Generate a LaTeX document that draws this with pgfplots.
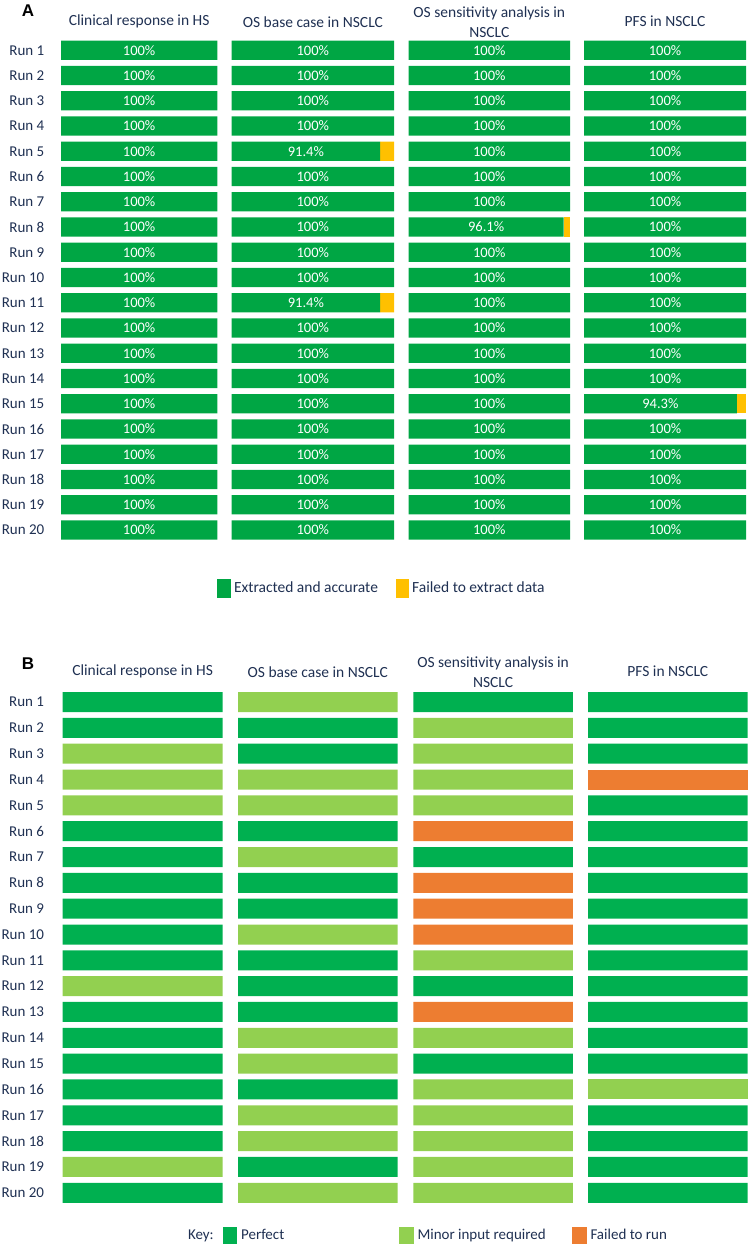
\documentclass[border=0pt]{standalone}
\usepackage{pgfplots}
\pgfplotsset{compat=1.18}
\usepackage{pgfplotstable}
\usepackage{fontspec}
\setmainfont{Carlito}
\newfontfamily\arialfont{Liberation Sans}

\definecolor{gA}{RGB}{0,166,68}
\definecolor{yA}{RGB}{255,192,0}
\definecolor{gB}{RGB}{0,176,80}
\definecolor{lB}{RGB}{146,208,80}
\definecolor{oB}{RGB}{237,125,49}
\definecolor{txt}{RGB}{31,48,82}

% Panel A: share of data extracted and accurate (%)
\pgfplotstableread{
run c1 c2 c3 c4
1 100 100 100 100
2 100 100 100 100
3 100 100 100 100
4 100 100 100 100
5 100 91.4 100 100
6 100 100 100 100
7 100 100 100 100
8 100 100 96.1 100
9 100 100 100 100
10 100 100 100 100
11 100 91.4 100 100
12 100 100 100 100
13 100 100 100 100
14 100 100 100 100
15 100 100 100 94.3
16 100 100 100 100
17 100 100 100 100
18 100 100 100 100
19 100 100 100 100
20 100 100 100 100
}\okA
% Panel A: share failed to extract (%)
\pgfplotstableread{
run c1 c2 c3 c4
1 0 0 0 0
2 0 0 0 0
3 0 0 0 0
4 0 0 0 0
5 0 8.6 0 0
6 0 0 0 0
7 0 0 0 0
8 0 0 3.9 0
9 0 0 0 0
10 0 0 0 0
11 0 8.6 0 0
12 0 0 0 0
13 0 0 0 0
14 0 0 0 0
15 0 0 0 5.7
16 0 0 0 0
17 0 0 0 0
18 0 0 0 0
19 0 0 0 0
20 0 0 0 0
}\failA

\pgfplotsset{
  every axis title shift=0pt,
  base/.style={scale only axis, anchor=north west,
    xmin=0, xmax=100, ymin=0.5, ymax=20.5, y dir=reverse,
    axis line style={draw=none}, xtick=\empty, ytick=\empty,
    major tick length=0pt, clip=false,
    title style={font=\fontsize{15.5bp}{20bp}\selectfont, text=txt, align=center,
      anchor=center, at={(0.5,1)}}},
  runlabels/.style={ytick={1,...,20},
    yticklabels={Run 1,Run 2,Run 3,Run 4,Run 5,Run 6,Run 7,Run 8,Run 9,Run 10,
      Run 11,Run 12,Run 13,Run 14,Run 15,Run 16,Run 17,Run 18,Run 19,Run 20},
    yticklabel style={font=\fontsize{15bp}{18bp}\selectfont, text=txt,
      inner sep=0pt, anchor=east, xshift=#1}},
  panelA/.style={base, height=505bp, xbar stacked, bar width=0.765,
    title style={yshift=16bp},
    legend image code/.code={\fill[##1] (0bp,-9.5bp) rectangle (13.4bp,9.5bp);}},
  panelB/.style={base, height=516.6bp, xbar, bar shift=0pt, bar width=0.774,
    title style={yshift=17.4bp},
    legend image code/.code={\fill[##1] (0bp,-8.5bp) rectangle (14.5bp,8.5bp);}},
  okbar/.style={fill=gA, draw=none,
    point meta=\thisrow{#1},
    nodes near coords={\pgfmathprintnumber[assume math mode=true]{\pgfplotspointmeta}\%},
    nodes near coords style={anchor=center, text=white,
      font=\fontsize{14.5bp}{17bp}\selectfont, inner sep=0pt}},
  failbar/.style={fill=yA, draw=none},
  pbar/.style={fill=gB, draw=none},
  mbar/.style={fill=lB, draw=none},
  fbar/.style={fill=oB, draw=none},
}

\begin{document}
\begin{tikzpicture}
\useasboundingbox (0,0) rectangle (749bp,-1245bp);

% ---------------- Panel A ----------------
\node[font=\arialfont\bfseries\fontsize{17bp}{20bp}\selectfont] at (28bp,-10.5bp) {A};

\begin{axis}[panelA, runlabels=-16.5bp, at={(61bp,-37.7bp)}, width=156.3bp,
  title={Clinical response in HS}]
\addplot[okbar=c1] table[x=c1, y=run] {\okA};
\addplot[failbar] table[x=c1, y=run] {\failA};
\end{axis}

\begin{axis}[panelA, at={(231.7bp,-37.7bp)}, width=162.3bp,
  title={OS base case in NSCLC},
  legend columns=2,
  legend style={at={(axis description cs:-0.0881,-0.0903)}, anchor=west,
    draw=none, fill=none, inner sep=0pt, outer sep=0pt,
    nodes={inner sep=0pt, text=txt, font=\fontsize{15.5bp}{18bp}\selectfont},
    /tikz/every odd column/.style={column sep=3.2bp},
    /tikz/every even column/.style={column sep=0bp}}]
\addplot[okbar=c2] table[x=c2, y=run] {\okA};
\addlegendentry{\makebox[161.6bp][l]{Extracted and accurate}}
\addplot[failbar] table[x=c2, y=run] {\failA};
\addlegendentry{Failed to extract data}
\end{axis}

\begin{axis}[panelA, at={(408.6bp,-37.7bp)}, width=161.4bp,
  title={OS sensitivity analysis in\\NSCLC}]
\addplot[okbar=c3] table[x=c3, y=run] {\okA};
\addplot[failbar] table[x=c3, y=run] {\failA};
\end{axis}

\begin{axis}[panelA, at={(584bp,-37.7bp)}, width=162bp,
  title={PFS in NSCLC}]
\addplot[okbar=c4] table[x=c4, y=run] {\okA};
\addplot[failbar] table[x=c4, y=run] {\failA};
\end{axis}

% ---------------- Panel B ----------------
\node[font=\arialfont\bfseries\fontsize{17bp}{20bp}\selectfont] at (28bp,-663.3bp) {B};

\begin{axis}[panelB, runlabels=-18.3bp, at={(62.6bp,-689.1bp)}, width=160bp,
  title={Clinical response in HS}]
\addplot[pbar] coordinates {(100,1) (100,2) (100,6) (100,7) (100,8) (100,9) (100,10) (100,11) (100,13) (100,14) (100,15) (100,16) (100,17) (100,18) (100,20)};
\addplot[mbar] coordinates {(100,3) (100,4) (100,5) (100,12) (100,19)};
\end{axis}

\begin{axis}[panelB, at={(238bp,-689.1bp)}, width=159.5bp,
  title={OS base case in NSCLC}]
\addplot[pbar] coordinates {(100,2) (100,3) (100,6) (100,8) (100,9) (100,11) (100,12) (100,13) (100,16) (100,19)};
\addplot[mbar] coordinates {(100,1) (100,4) (100,5) (100,7) (100,10) (100,14) (100,15) (100,17) (100,18) (100,20)};
\end{axis}

\begin{axis}[panelB, at={(413.3bp,-689.1bp)}, width=159.6bp,
  title={OS sensitivity analysis in\\NSCLC},
  legend columns=4,
  legend style={at={(axis description cs:-1.4367,-0.0569)}, anchor=west,
    draw=none, fill=none, inner sep=0pt, outer sep=0pt,
    nodes={inner sep=0pt, text=txt, font=\fontsize{15bp}{18bp}\selectfont},
    /tikz/every odd column/.style={column sep=4bp},
    /tikz/every even column/.style={column sep=0bp}}]
\addlegendimage{empty legend}
\addlegendentry{\makebox[34.6bp][l]{Key:}}
\addplot[pbar] coordinates {(100,1) (100,7) (100,12) (100,15)};
\addlegendentry{\makebox[157.9bp][l]{Perfect}}
\addplot[mbar] coordinates {(100,2) (100,3) (100,4) (100,5) (100,11) (100,14) (100,16) (100,17) (100,18) (100,19) (100,20)};
\addlegendentry{\makebox[154.5bp][l]{Minor input required}}
\addplot[fbar] coordinates {(100,6) (100,8) (100,9) (100,10) (100,13)};
\addlegendentry{Failed to run}
\end{axis}

\begin{axis}[panelB, at={(588bp,-689.1bp)}, width=159.7bp,
  title={PFS in NSCLC}]
\addplot[pbar] coordinates {(100,1) (100,2) (100,3) (100,5) (100,6) (100,7) (100,8) (100,9) (100,10) (100,11) (100,12) (100,13) (100,14) (100,15) (100,17) (100,18) (100,19) (100,20)};
\addplot[mbar] coordinates {(100,16)};
\addplot[fbar] coordinates {(100,4)};
\end{axis}
\end{tikzpicture}
\end{document}
